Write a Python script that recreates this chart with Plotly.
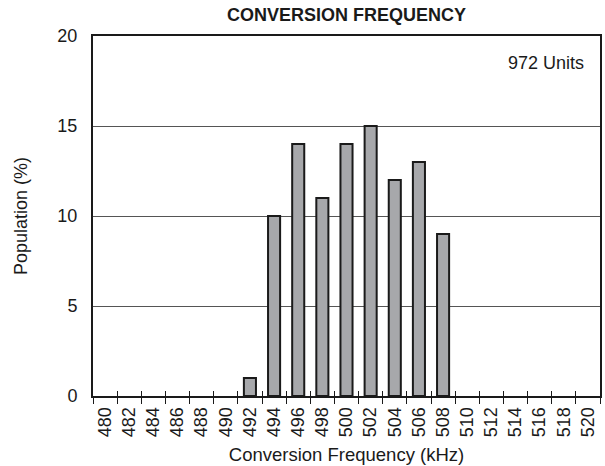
import plotly.graph_objects as go

categories = [str(v) for v in range(480, 522, 2)]
bar_categories = ["492", "494", "496", "498", "500", "502", "504", "506", "508"]
bar_values = [1, 10, 14, 11, 14, 15, 12, 13, 9]
y_ticks = [0, 5, 10, 15, 20]

FONT = "Liberation Sans, Arial, sans-serif"
INK = "#1a1a1a"

fig = go.Figure()
fig.add_trace(go.Bar(
    x=bar_categories, y=bar_values, width=0.5,
    marker=dict(color="#a7a8ab", line=dict(color=INK, width=2)),
    xaxis="x", yaxis="y",
))
fig.add_trace(go.Scatter(x=categories, y=[None]*len(categories), xaxis="x2", yaxis="y",
                         mode="markers", showlegend=False, hoverinfo="skip"))

fig.update_layout(
    width=605, height=466,
    margin=dict(l=93, r=5, t=36, b=70),
    paper_bgcolor="white", plot_bgcolor="white",
    showlegend=False,
    font=dict(family=FONT, color=INK, size=17),
    title=dict(text="<b>CONVERSION FREQUENCY</b>", x=(93+600)/2/605, xanchor="center",
               y=1-15/466, yanchor="middle", font=dict(size=18, family=FONT)),
    xaxis=dict(
        type="category", categoryorder="array", categoryarray=categories,
        range=[-0.5, len(categories) - 0.5], automargin=False,
        tickson="boundaries", ticks="outside", ticklen=6, tickwidth=1, tickcolor=INK,
        tickangle=-90, tickfont=dict(size=18), ticklabelstandoff=2,
        showline=True, linecolor=INK, linewidth=2, mirror=True,
        showgrid=False, zeroline=False,
        title=dict(text="Conversion Frequency (kHz)", font=dict(size=18.5), standoff=12),
    ),
    xaxis2=dict(
        type="category", categoryorder="array", categoryarray=categories,
        range=[-0.5, len(categories) - 0.5], overlaying="x", side="bottom",
        tickson="boundaries", ticks="inside", ticklen=5, tickwidth=1, tickcolor=INK,
        showticklabels=False, showgrid=False, zeroline=False, showline=False,
        automargin=False,
    ),
    yaxis=dict(
        range=[0, 20], tickvals=y_ticks, ticks="", tickfont=dict(size=18),
        showgrid=True, gridcolor="#555555", gridwidth=1,
        showline=True, linecolor=INK, linewidth=2, mirror=True,
        zeroline=False, ticklabelstandoff=10, automargin=False,
        title=dict(text="Population (%)", font=dict(size=18), standoff=25),
    ),
    annotations=[dict(text="972 Units", xref="paper", yref="paper", x=0.972, y=0.925,
                      xanchor="right", yanchor="middle", showarrow=False,
                      font=dict(size=18, family=FONT))],
)

fig.write_html("out.html", config={"displayModeBar": False},
               post_script="document.body.style.margin='0';document.body.style.overflow='hidden';")
